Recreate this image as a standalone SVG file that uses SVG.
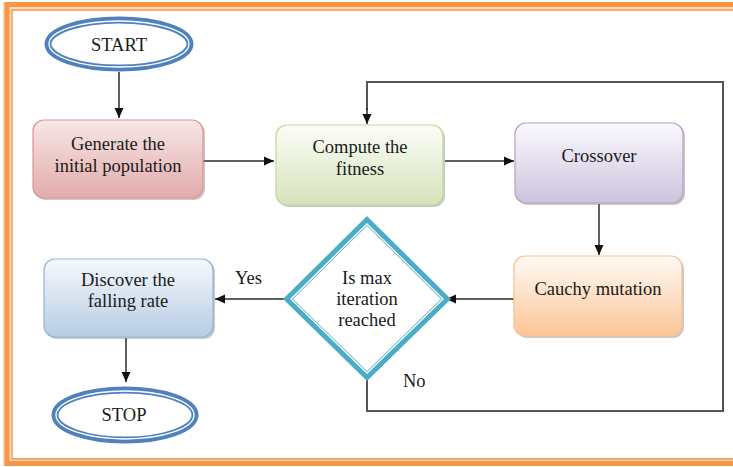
<svg xmlns="http://www.w3.org/2000/svg" width="733" height="467" viewBox="0 0 733 467">
<defs>
<style>
text{font-family:"Liberation Serif","Times New Roman",serif;font-size:18.5px;fill:#1a1a1a;text-anchor:middle}
.lbl{text-anchor:start}
.conn{fill:none;stroke:#2b2b2b;stroke-width:1.5}
.loop{fill:none;stroke:#555;stroke-width:2}
.shadow{fill:#888;opacity:0.45}
.ell{fill:#fff;stroke:#4F81BD;stroke-width:7}
.ellin{fill:none;stroke:#fff;stroke-width:1.3}
</style>
<marker id="ah" markerUnits="userSpaceOnUse" markerWidth="10" markerHeight="10" refX="10" refY="5" orient="auto">
<path d="M0,0.5 L10,5 L0,9.5 z" fill="#111"/>
</marker>
<linearGradient id="gPink" x1="0" y1="0" x2="0" y2="1"><stop offset="0" stop-color="#F8E6E6"/><stop offset="1" stop-color="#E2ABAB"/></linearGradient>
<linearGradient id="gGreen" x1="0" y1="0" x2="0" y2="1"><stop offset="0" stop-color="#FCFDF8"/><stop offset="1" stop-color="#D5E3BA"/></linearGradient>
<linearGradient id="gPurple" x1="0" y1="0" x2="0" y2="1"><stop offset="0" stop-color="#FBFAFD"/><stop offset="1" stop-color="#CDC2DD"/></linearGradient>
<linearGradient id="gOrange" x1="0" y1="0" x2="0" y2="1"><stop offset="0" stop-color="#FFFAF5"/><stop offset="1" stop-color="#FBC597"/></linearGradient>
<linearGradient id="gBlue" x1="0" y1="0" x2="0" y2="1"><stop offset="0" stop-color="#F6F9FD"/><stop offset="1" stop-color="#B7CCE4"/></linearGradient>
</defs>

<g id="frame">
<rect x="7" y="6" width="760" height="456" fill="none" stroke="#FCD9BC" stroke-width="8"/>
<rect x="7" y="4.5" width="760" height="459" fill="none" stroke="#F79646" stroke-width="5"/>
<rect x="12" y="10" width="760" height="449" fill="none" stroke="#F79646" stroke-width="1.5"/>
</g>

<g id="connectors">
<path class="conn" d="M119,72 V118" marker-end="url(#ah)"/>
<path class="conn" d="M203,161 H274" marker-end="url(#ah)"/>
<path class="conn" d="M445,161 H514" marker-end="url(#ah)"/>
<path class="conn" d="M599,204 V255" marker-end="url(#ah)"/>
<path class="conn" d="M514,299 H446" marker-end="url(#ah)"/>
<path class="conn" d="M285,299 H215" marker-end="url(#ah)"/>
<path class="conn" d="M126,338 V382" marker-end="url(#ah)"/>
<path class="loop" d="M367,376 V411 H723 V82 H367 V110"/>
<path class="conn" d="M367,108 V124" marker-end="url(#ah)"/>
<text class="lbl" x="235" y="284">Yes</text>
<text class="lbl" x="403" y="387">No</text>
</g>

<g id="start">
<ellipse class="ell" cx="119" cy="44" rx="71" ry="24"/>
<ellipse class="ellin" cx="119" cy="44" rx="70" ry="23"/>
<text x="119" y="51">START</text>
</g>

<g id="generate">
<rect class="shadow" x="35" y="122" width="170" height="78" rx="11"/>
<rect x="33" y="120" width="170" height="78" rx="11" fill="url(#gPink)" stroke="#D99694" stroke-width="1.2"/>
<text x="118" y="150">Generate the</text>
<text x="118" y="172">initial population</text>
</g>

<g id="compute">
<rect class="shadow" x="278" y="127" width="167" height="80" rx="11"/>
<rect x="276" y="125" width="167" height="80" rx="11" fill="url(#gGreen)" stroke="#C3D69B" stroke-width="1.2"/>
<text x="360" y="153">Compute the</text>
<text x="360" y="175">fitness</text>
</g>

<g id="crossover">
<rect class="shadow" x="517" y="125" width="168" height="80" rx="11"/>
<rect x="515" y="123" width="168" height="80" rx="11" fill="url(#gPurple)" stroke="#B3A2C7" stroke-width="1.2"/>
<text x="599" y="162">Crossover</text>
</g>

<g id="cauchy">
<rect class="shadow" x="516" y="258" width="168" height="80" rx="11"/>
<rect x="514" y="256" width="168" height="80" rx="11" fill="url(#gOrange)" stroke="#FAC090" stroke-width="1.2"/>
<text x="598" y="295">Cauchy mutation</text>
</g>

<g id="decision">
<polygon points="367,221 446,299 367,376 288,299" fill="#fff" stroke="#4BACC6" stroke-width="7" stroke-linejoin="miter"/>
<polygon points="367,224 443,299 367,373 291,299" fill="none" stroke="#fff" stroke-width="1.3"/>
<text x="367" y="284">Is max</text>
<text x="367" y="305">iteration</text>
<text x="367" y="326">reached</text>
</g>

<g id="discover">
<rect class="shadow" x="46" y="261" width="169" height="78" rx="11"/>
<rect x="44" y="259" width="169" height="78" rx="11" fill="url(#gBlue)" stroke="#95B3D7" stroke-width="1.2"/>
<text x="128" y="286">Discover the</text>
<text x="128" y="307">falling rate</text>
</g>

<g id="stop">
<ellipse class="ell" cx="125" cy="415" rx="70" ry="25"/>
<ellipse class="ellin" cx="125" cy="415" rx="69" ry="24"/>
<text x="124" y="421">STOP</text>
</g>
</svg>
